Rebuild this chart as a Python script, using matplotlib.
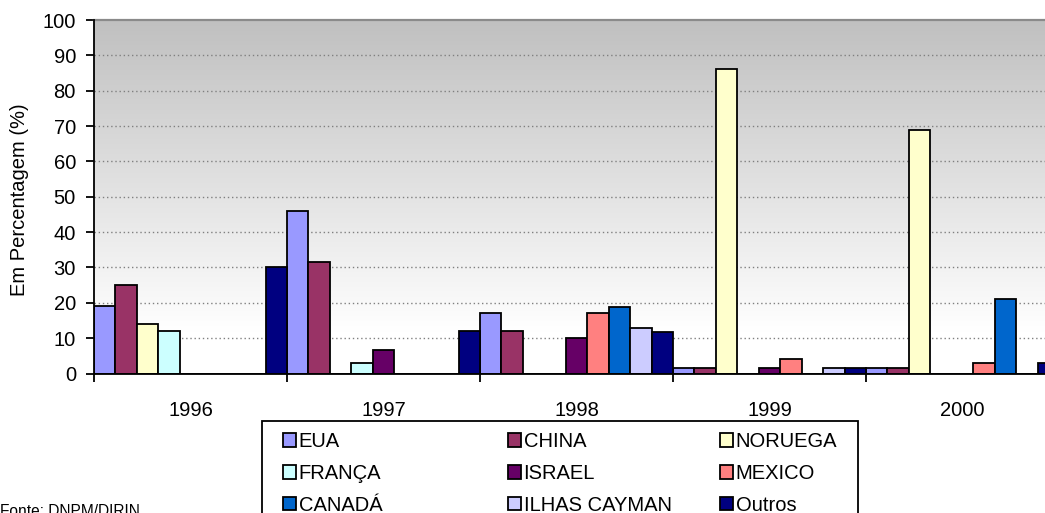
import numpy as np
import matplotlib
matplotlib.use("Agg")
import matplotlib.pyplot as plt
from matplotlib.colors import LinearSegmentedColormap
from matplotlib.patches import Rectangle

plt.rcParams['font.family'] = ['Liberation Sans', 'DejaVu Sans']

years = ['1996', '1997', '1998', '1999', '2000']
series_names = ['EUA', 'CHINA', 'NORUEGA', 'FRANÇA', 'ISRAEL', 'MEXICO',
                'CANADÁ', 'ILHAS CAYMAN', 'Outros']
eua = [19, 46, 17, 1.5, 1.6]
china = [25, 31.6, 12, 1.6, 1.6]
noruega = [14, 0, 0, 86, 69]
franca = [12, 3, 0, 0, 0]
israel = [0, 6.6, 10, 1.6, 0]
mexico = [0, 0, 17, 4, 3]
canada = [0, 0, 18.7, 0, 21]
ilhas = [0, 0, 13, 1.6, 0]
outros = [30, 12, 11.8, 1.5, 3]
series = [eua, china, noruega, franca, israel, mexico, canada, ilhas, outros]
colors = ['#9999FF', '#993366', '#FFFFCC', '#CCFFFF', '#660066', '#FF8080',
          '#0066CC', '#CCCCFF', '#000080']

W, H = 1045, 513
fig = plt.figure(figsize=(W / 100, H / 100), dpi=100)
ax_left, ax_right, ax_top, ax_bot = 94, 1059, 20, 373.5
ax = fig.add_axes([ax_left / W, 1 - ax_bot / H, (ax_right - ax_left) / W, (ax_bot - ax_top) / H])

n = len(series)
ngroups = len(years)
xs = np.arange(ngroups)
bw = 1.0 / n

# gradient background
cmap = LinearSegmentedColormap.from_list('bg', [(0, '#ffffff'), (0.12, '#ffffff'), (1, '#c0c0c0')])
grad = np.linspace(0, 1, 256).reshape(-1, 1)
ax.imshow(grad, extent=[0, ngroups, 0, 100], origin='lower', aspect='auto', cmap=cmap, zorder=0)

# grid
for yv in range(10, 100, 10):
    ax.axhline(yv, color='#808080', lw=1.0, ls=(0, (1, 2)), zorder=1)

bars = []
for j, (vals, c, name) in enumerate(zip(series, colors, series_names)):
    b = ax.bar(xs + (j + 0.5) * bw, vals, width=bw, color=c, edgecolor='black',
               linewidth=1.3, label=name, zorder=3)
    bars.append(b)

ax.set_xlim(0, ngroups)
ax.set_ylim(0, 100)

ax.spines['right'].set_visible(False)
ax.spines['top'].set_color('#8a8a8a')
ax.spines['top'].set_linewidth(1.6)
ax.spines['left'].set_linewidth(1.3)
ax.spines['bottom'].set_linewidth(1.3)
ax.spines['left'].set_zorder(4)
ax.spines['bottom'].set_zorder(4)

ax.set_yticks(range(0, 101, 10))
ax.tick_params(axis='y', direction='out', length=6, width=1.3, labelsize=14.5, pad=7)
ax.set_xticks(np.arange(ngroups + 1))
ax.set_xticklabels([])
ax.tick_params(axis='x', which='major', direction='out', length=6, width=1.3)
ax.set_xticks(xs + 0.5, minor=True)
ax.set_xticklabels(years, minor=True)
ax.tick_params(axis='x', which='minor', length=0, labelsize=14.5, pad=20)

fig.text(20 / W, 1 - 200 / H, 'Em Percentagem (%)', rotation=90, ha='center', va='center', fontsize=14.5)

# legend box
fig.patches.append(Rectangle((262 / W, -0.1), (858 - 262) / W, 0.1 + (H - 421) / H,
                             transform=fig.transFigure, facecolor='white', edgecolor='black',
                             linewidth=1.3, zorder=5))
col_x = [283, 508, 720]
for ci in range(3):
    hs = [bars[ci + 3 * r] for r in range(3)]
    ls = [series_names[ci + 3 * r] for r in range(3)]
    leg = fig.legend(hs, ls, loc='upper left', bbox_to_anchor=(col_x[ci] / W, 1 - 432 / H),
                     frameon=False, fontsize=14.5, handlelength=0.65, handleheight=0.65,
                     handletextpad=0.12, labelspacing=0.64, borderpad=0, borderaxespad=0)
    leg.set_zorder(6)

fig.text(0 / W, 1 - 504 / H, 'Fonte: DNPM/DIRIN', ha='left', va='top', fontsize=11.2)

fig.savefig('out.png', dpi=100)
